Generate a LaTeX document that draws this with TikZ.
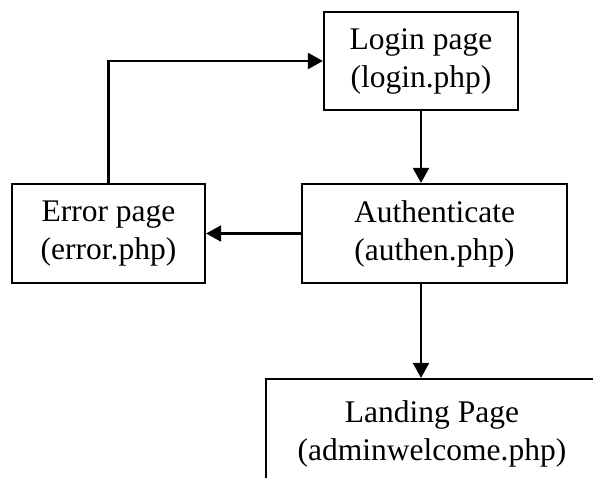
\documentclass[tikz,border=0pt]{standalone}
\usepackage{fontspec}
\setmainfont{Liberation Serif}
\usetikzlibrary{arrows.meta}
\begin{document}
\begin{tikzpicture}[x=1pt,y=-1pt,
  pagebox/.style={draw=black,line width=2.2pt,inner sep=0pt,align=center,
    font=\fontsize{31.5pt}{38pt}\selectfont},
  flow/.style={draw=black,line width=2.2pt,-{Triangle[length=15pt,width=16pt]}}]
  \clip (0,0) rectangle (593,477);
  \node[pagebox,minimum width=194pt,minimum height=98pt] (login) at (421,61) {Login page\\(login.php)};
  \node[pagebox,minimum width=265pt,minimum height=99pt] (auth) at (434.5,233.5) {Authenticate\\(authen.php)};
  \node[pagebox,minimum width=193pt,minimum height=99pt] (error) at (108.5,233.5) {Error page\\(error.php)};
  \node[pagebox,minimum width=332pt,minimum height=110pt] (landing) at (432,434) {Landing Page\\(adminwelcome.php)};
  \draw[flow] (login.south) -- (login.south |- auth.north);
  \draw[flow] (auth.west) -- (error.east);
  \draw[flow] (error.north) |- (login.west);
  \draw[flow] (login.south |- auth.south) -- (login.south |- landing.north);
\end{tikzpicture}
\end{document}
